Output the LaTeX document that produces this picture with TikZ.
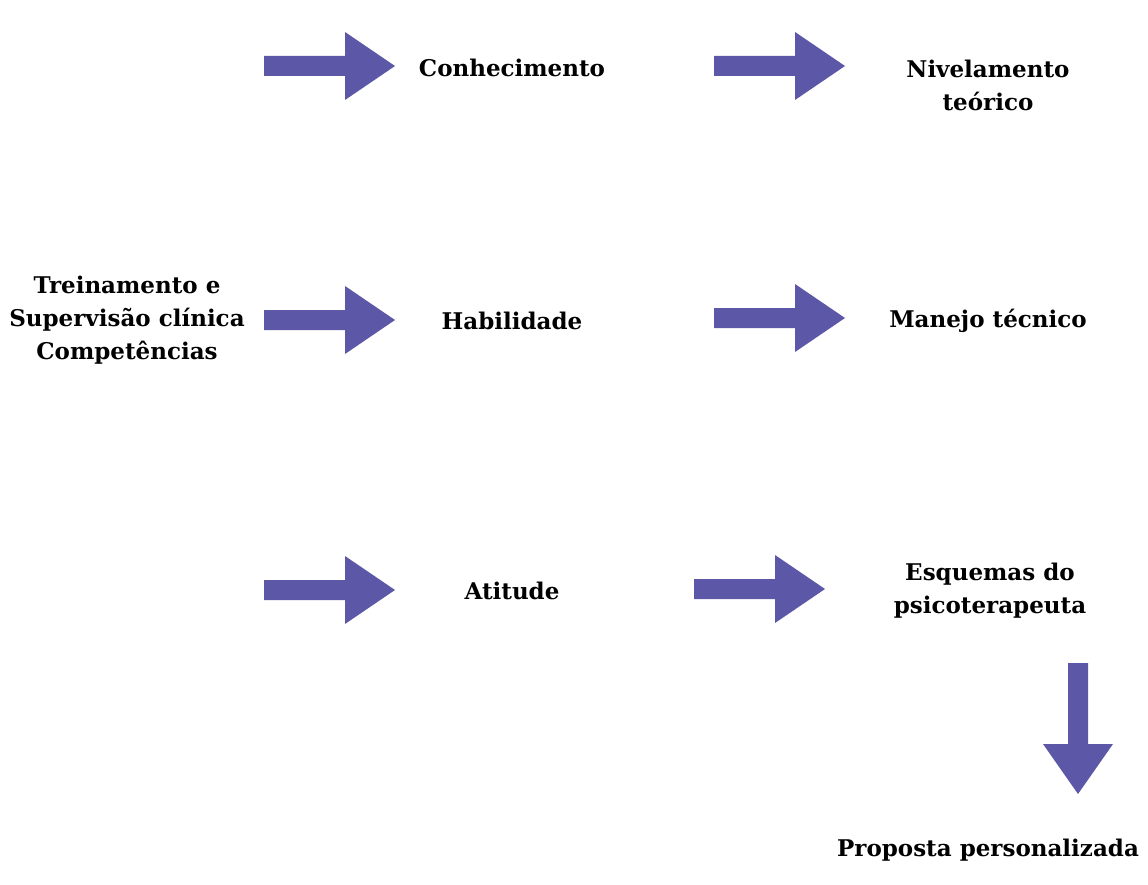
\documentclass[tikz,border=0pt]{standalone}
\usepackage{fontspec}
\setmainfont{DejaVu Serif}
\definecolor{roxo}{RGB}{93,87,168}

\begin{document}
\begin{tikzpicture}[x=1pt,y=-1pt]
	\tikzstyle{rotulo}=[align=center,inner sep=0pt,font=\bfseries\fontsize{23}{33}\selectfont]
	\tikzstyle{flecha}=[fill=roxo,draw=none]
	\useasboundingbox (0,0) rectangle (1148,885);
	% textos
	\node (conhecimento) [rotulo] at (512,68) {Conhecimento};
	\node (nivelamento) [rotulo] at (988,85) {Nivelamento\\teórico};
	\node (treinamento) [rotulo] at (127,320) {Treinamento e\\Supervisão clínica\\Competências};
	\node (habilidade) [rotulo] at (512,321) {Habilidade};
	\node (manejo) [rotulo] at (988,321) {Manejo técnico};
	\node (atitude) [rotulo] at (512,591) {Atitude};
	\node (esquemas) [rotulo] at (990,591) {Esquemas do\\psicoterapeuta};
	\node (proposta) [rotulo] at (988,850) {Proposta personalizada};
	% setas
	\foreach \x/\y in {264/66, 714/66, 264/320, 714/318, 264/590, 694/589}
		\fill[flecha] (\x,\y) ++(0,-10) -- ++(81,0) -- ++(0,-24) -- ++(50,34) -- ++(-50,34) -- ++(0,-24) -- ++(-81,0) -- cycle;
	\fill[flecha] (1078,663) ++(-10,0) -- ++(0,81) -- ++(-25,0) -- ++(35,50) -- ++(35,-50) -- ++(-25,0) -- ++(0,-81) -- cycle;
\end{tikzpicture}
\end{document}
